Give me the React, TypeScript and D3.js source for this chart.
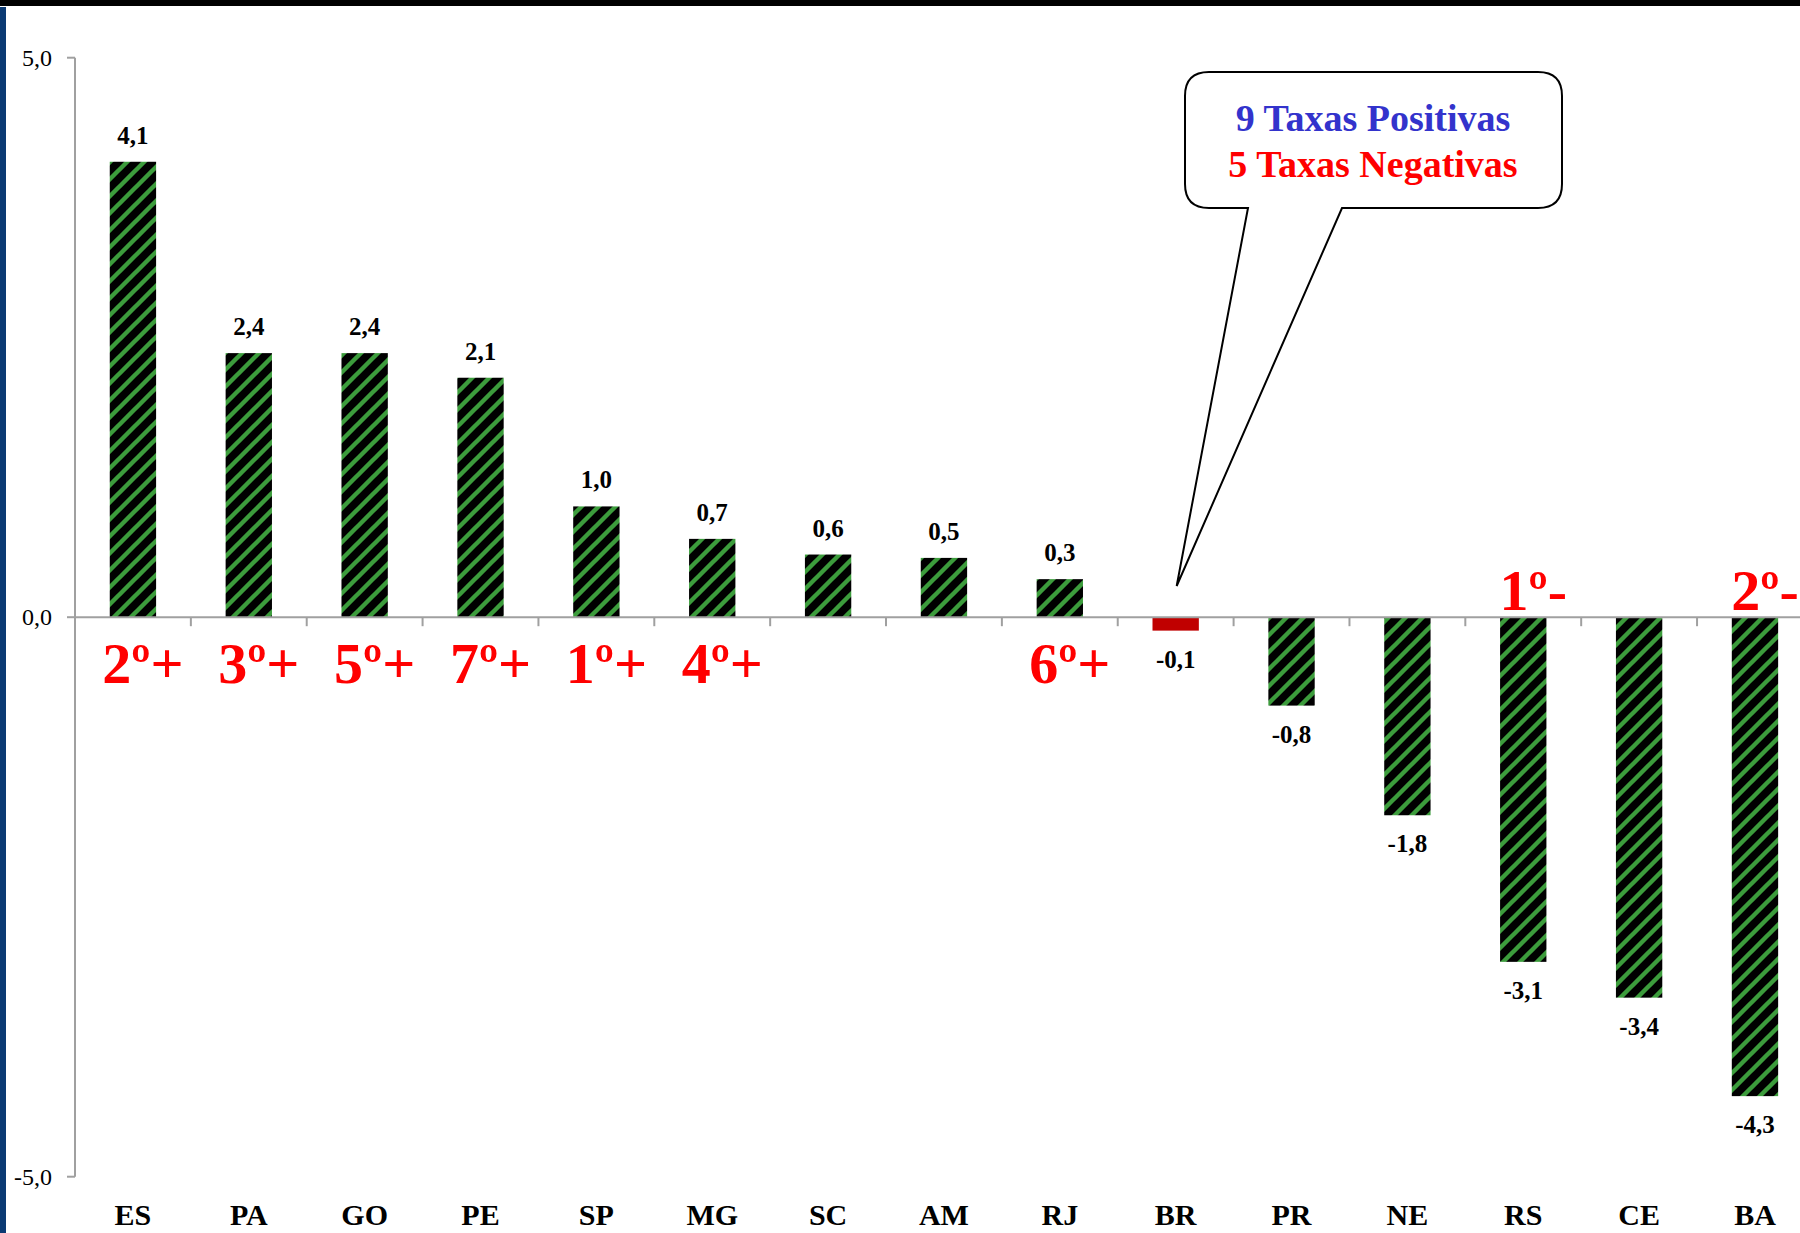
import React from "react";
import * as d3 from "d3";

const categories = ["ES", "PA", "GO", "PE", "SP", "MG", "SC", "AM", "RJ", "BR", "PR", "NE", "RS", "CE", "BA"];
const values = [4.07, 2.36, 2.36, 2.14, 0.99, 0.7, 0.56, 0.53, 0.34, -0.12, -0.79, -1.77, -3.08, -3.4, -4.28];
const highlight = ["BR"];
const yTicks = [-5, 0, 5];
const rankCategories = ["ES", "PA", "GO", "PE", "SP", "MG", "RJ", "RS", "BA"];
const rankLabels = ["2º+", "3º+", "5º+", "7º+", "1º+", "4º+", "6º+", "1º-", "2º-"];
const calloutLines = ["9 Taxas Positivas", "5 Taxas Negativas"];

const W = 1800;
const H = 1233;
const AXIS_X = 75;
const STEP = 115.86;

const locale = d3.formatLocale({ decimal: ",", thousands: ".", grouping: [3], currency: ["R$", ""], minus: "-" });
const fmt = locale.format(".1f");

export default function App() {
  const y = d3.scaleLinear().domain([-5, 5]).range([1176.7, 57.7]);
  const x = d3
    .scaleBand<string>()
    .domain(categories)
    .range([AXIS_X, AXIS_X + STEP * categories.length])
    .paddingInner(0.6)
    .paddingOuter(0.3);
  const y0 = y(0);
  const serif = "'Liberation Serif', 'Times New Roman', serif";

  // callout geometry
  const bx0 = 1185, bx1 = 1562, by0 = 72, by1 = 208, r = 24;
  const tipX = x("BR")! + x.bandwidth() / 2 + 1;
  const tipY = 586;
  const calloutPath = [
    `M${bx0 + r},${by0}`,
    `L${bx1 - r},${by0}`,
    `Q${bx1},${by0} ${bx1},${by0 + r}`,
    `L${bx1},${by1 - r}`,
    `Q${bx1},${by1} ${bx1 - r},${by1}`,
    `L1342,${by1}`,
    `L${tipX},${tipY}`,
    `L1248,${by1}`,
    `L${bx0 + r},${by1}`,
    `Q${bx0},${by1} ${bx0},${by1 - r}`,
    `L${bx0},${by0 + r}`,
    `Q${bx0},${by0} ${bx0 + r},${by0}`,
    "Z",
  ].join(" ");

  const boundaries = d3.range(1, categories.length + 1).map((i) => AXIS_X + i * x.step());

  return (
    <svg
      width={W}
      height={H}
      viewBox={`0 0 ${W} ${H}`}
      style={{ position: "absolute", left: 0, top: 0, background: "#fff" }}
    >
      <defs>
        <pattern id="stripes" patternUnits="userSpaceOnUse" width={17} height={17}>
          <rect width={17} height={17} fill="#000" />
          <path d="M-4,4 L4,-4 M0,17 L17,0 M13,21 L21,13" stroke="#3c9c3c" strokeWidth={4.4} />
        </pattern>
      </defs>
      <rect x={0} y={0} width={W} height={H} fill="#fff" />
      <rect x={0} y={0} width={W} height={6} fill="#000" />
      <rect x={0} y={7} width={6} height={H - 7} fill="#0b3a73" />

      {/* y axis */}
      <line x1={AXIS_X} x2={AXIS_X} y1={y(5)} y2={y(-5)} stroke="#a0a0a0" strokeWidth={2} />
      {yTicks.map((t) => (
        <g key={t}>
          <line x1={AXIS_X - 8} x2={AXIS_X} y1={y(t)} y2={y(t)} stroke="#a0a0a0" strokeWidth={2} />
          <text x={52} y={y(t) + 8} textAnchor="end" fontFamily={serif} fontSize={24} fill="#000">
            {fmt(t)}
          </text>
        </g>
      ))}

      {/* bars */}
      {categories.map((c, i) => {
        const v = values[i];
        const top = Math.min(y(v), y0);
        const h = Math.abs(y(v) - y0);
        return (
          <rect
            key={c}
            x={x(c)}
            y={top}
            width={x.bandwidth()}
            height={h}
            fill={highlight.includes(c) ? "#c00000" : "url(#stripes)"}
          />
        );
      })}

      {/* x axis */}
      <line x1={AXIS_X} x2={W + 20} y1={y0} y2={y0} stroke="#a0a0a0" strokeWidth={2} />
      {boundaries.map((bx, i) => (
        <line key={i} x1={bx} x2={bx} y1={y0} y2={y0 + 9} stroke="#a0a0a0" strokeWidth={2} />
      ))}

      {/* value labels */}
      {categories.map((c, i) => {
        const v = values[i];
        const cx = x(c)! + x.bandwidth() / 2;
        const ty = v >= 0 ? y(v) - 18 : y(v) + 37;
        return (
          <text key={c} x={cx} y={ty} textAnchor="middle" fontFamily={serif} fontWeight="bold" fontSize={25} fill="#000">
            {fmt(v)}
          </text>
        );
      })}

      {/* category labels */}
      {categories.map((c) => (
        <text
          key={c}
          x={x(c)! + x.bandwidth() / 2}
          y={1225}
          textAnchor="middle"
          fontFamily={serif}
          fontWeight="bold"
          fontSize={30}
          fill="#000"
        >
          {c}
        </text>
      ))}

      {/* rank annotations */}
      {rankCategories.map((c, i) => {
        const v = values[categories.indexOf(c)];
        const cx = x(c)! + x.bandwidth() / 2 + 10;
        const ty = v >= 0 ? y0 + 66 : y0 - 7;
        return (
          <text key={c} x={cx} y={ty} textAnchor="middle" fontFamily={serif} fontWeight="bold" fontSize={58} fill="#ff0000">
            {rankLabels[i]}
          </text>
        );
      })}

      {/* callout */}
      <path d={calloutPath} fill="#fff" stroke="#000" strokeWidth={2} />
      <text x={1373} y={131} textAnchor="middle" fontFamily={serif} fontWeight="bold" fontSize={38} fill="#3333cc">
        {calloutLines[0]}
      </text>
      <text x={1373} y={177} textAnchor="middle" fontFamily={serif} fontWeight="bold" fontSize={38} fill="#ff0000">
        {calloutLines[1]}
      </text>
    </svg>
  );
}
